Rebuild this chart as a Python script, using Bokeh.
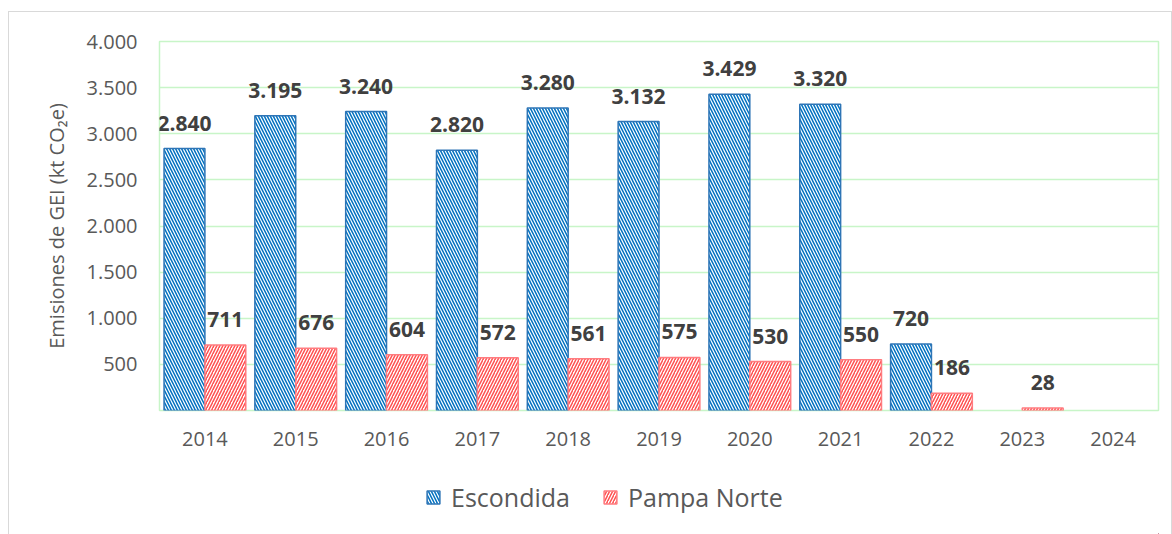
from bokeh.plotting import figure
from bokeh.layouts import column
from bokeh.models import (ColumnDataSource, FactorRange, Range1d, FixedTicker,
                          CustomJSTickFormatter, LabelSet, Legend, LegendItem)
from bokeh.core.properties import value
from bokeh.transform import dodge
from bokeh.embed import file_html
from bokeh.resources import INLINE

years = ["2014", "2015", "2016", "2017", "2018", "2019", "2020", "2021", "2022", "2023", "2024"]
escondida = [2840, 3195, 3240, 2820, 3280, 3132, 3429, 3320, 720, None, None]
pampa_norte = [711, 676, 604, 572, 561, 575, 530, 550, 186, 28, None]
y_ticks = [500, 1000, 1500, 2000, 2500, 3000, 3500, 4000]
series_names = ["Escondida", "Pampa Norte"]


def fmt(v):
    return "" if v is None else f"{v:,}".replace(",", ".")


def num(v):
    return float("nan") if v is None else v


src = ColumnDataSource(dict(
    year=years,
    esc=[num(v) for v in escondida],
    pam=[num(v) for v in pampa_norte],
    esc_lbl=[fmt(v) for v in escondida],
    pam_lbl=[fmt(v) for v in pampa_norte],
))

FONT = "Open Sans"
BLUE_H = "#0070C0"
BLUE_L = "#2E75B6"
RED_H = "#FF5050"
RED_L = "#FF7C80"
GRID = "#C8F5C8"

esc_style = dict(fill_color="white", line_color=BLUE_L, line_width=1.5,
                 hatch_pattern="\\", hatch_color=BLUE_H, hatch_scale=6, hatch_weight=1.5)
pam_style = dict(fill_color="white", line_color=RED_L, line_width=1.5,
                 hatch_pattern="/", hatch_color=RED_H, hatch_scale=6, hatch_weight=1.5)

p = figure(x_range=FactorRange(*years), y_range=Range1d(0, 4000),
           width=1162, height=449, output_backend="svg", toolbar_location=None,
           min_border_left=150, min_border_right=13, min_border_top=29,
           min_border_bottom=51)

p.vbar(x=dodge("year", -0.225, range=p.x_range), top="esc", width=0.45, source=src, **esc_style)
p.vbar(x=dodge("year", 0.225, range=p.x_range), top="pam", width=0.45, source=src, **pam_style)

for col, off in (("esc", -0.225), ("pam", 0.225)):
    p.add_layout(LabelSet(x=dodge("year", off, range=p.x_range), y=col, text=col + "_lbl",
                          source=src, text_align="center", text_baseline="bottom",
                          y_offset=18, text_font=value(FONT), text_font_style="bold",
                          text_font_size="21px", text_color="#404040"))

p.outline_line_color = GRID
p.outline_line_width = 1.5
p.xgrid.grid_line_color = None
p.ygrid.grid_line_color = GRID
p.ygrid.grid_line_width = 1.5
p.ygrid.ticker = FixedTicker(ticks=y_ticks)

p.yaxis.ticker = FixedTicker(ticks=y_ticks)
p.yaxis.formatter = CustomJSTickFormatter(
    code='return tick.toString().replace(/\\B(?=(\\d{3})+(?!\\d))/g, ".");')
p.yaxis.axis_line_color = None
p.yaxis.major_tick_line_color = None
p.yaxis.minor_tick_line_color = None
p.yaxis.major_tick_out = 0
p.yaxis.major_label_standoff = 22
p.yaxis.major_label_text_font = FONT
p.yaxis.major_label_text_font_size = "20px"
p.yaxis.major_label_text_color = "#595959"
p.yaxis.axis_label = "Emisiones de GEI (kt CO\u2082e)"
p.yaxis.axis_label_text_font = FONT
p.yaxis.axis_label_text_font_size = "20px"
p.yaxis.axis_label_text_font_style = "normal"
p.yaxis.axis_label_text_color = "#595959"
p.yaxis.axis_label_standoff = 14

p.xaxis.axis_line_color = None
p.xaxis.major_tick_line_color = None
p.xaxis.minor_tick_line_color = None
p.xaxis.major_tick_out = 0
p.xaxis.major_label_standoff = 21
p.xaxis.major_label_text_font = FONT
p.xaxis.major_label_text_font_size = "20px"
p.xaxis.major_label_text_color = "#595959"

# legend strip: same series drawn far outside this strip's ranges (shifted right and
# above all values), so the bars stay out of view and only the legend swatches show
lg = figure(width=1162, height=73, output_backend="svg", toolbar_location=None,
            x_range=FactorRange(*years), y_range=Range1d(5000, 6000),
            min_border=0, x_axis_location=None, y_axis_location=None)
lg.outline_line_color = None
lg.grid.grid_line_color = None
g1 = lg.vbar(x=dodge("year", 30, range=lg.x_range), top="esc", width=0.45, source=src, **esc_style)
g2 = lg.vbar(x=dodge("year", 30, range=lg.x_range), top="pam", width=0.45, source=src, **pam_style)
legend = Legend(items=[LegendItem(label=series_names[0], renderers=[g1], index=0),
                       LegendItem(label=series_names[1], renderers=[g2], index=0)],
                orientation="horizontal", location=(266, 20),
                label_text_font=FONT, label_text_font_size="25px",
                label_text_color="#595959", border_line_color=None,
                background_fill_alpha=0, margin=0, padding=0,
                glyph_width=16, glyph_height=16, spacing=32, label_standoff=10)
lg.add_layout(legend)

layout = column(p, lg, spacing=0,
                styles={"border": "1px solid #d9d9d9", "margin-left": "8px",
                        "margin-top": "11px"})

open("out.html", "w").write(file_html(layout, INLINE))
